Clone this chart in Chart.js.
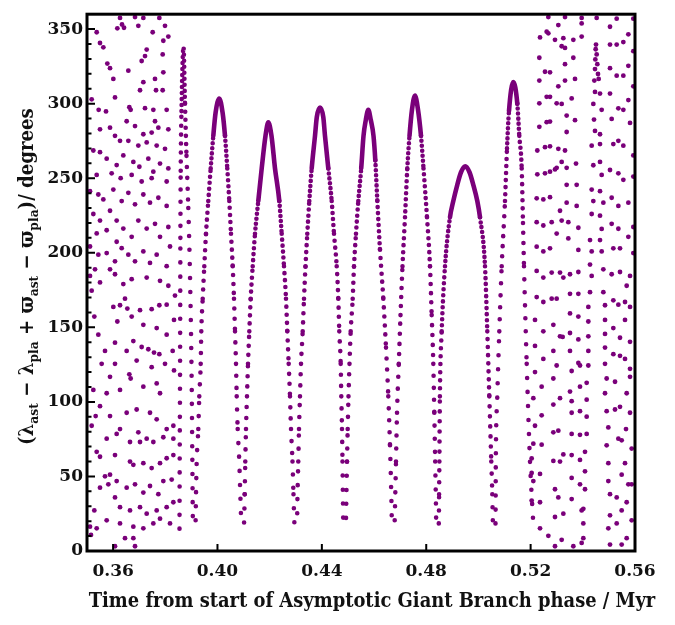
<!DOCTYPE html>
<html>
<head>
<meta charset="utf-8">
<script src="https://cdn.jsdelivr.net/npm/chart.js@4.4.1/dist/chart.umd.min.js"></script>
<style>
  html, body { margin: 0; padding: 0; background: #fff; }
  #wrap { width: 675px; height: 625px; }
</style>
</head>
<body>
<div id="wrap"><canvas id="chart" width="675" height="625"></canvas></div>
<script>
// axis ticks
const xTicks = [0.36, 0.40, 0.44, 0.48, 0.52, 0.56];
const yTicks = [0, 50, 100, 150, 200, 250, 300, 350];

// libration: time (Myr), angle (deg) read along the arches, in time order
const librationPath = [
  // narrow arch just before capture
  [0.38545,15],[0.38552,60],[0.38564,110],[0.38572,160],[0.38579,210],[0.38591,255],[0.38621,295],[0.38698,338],
  [0.38755,300],[0.38813,265],[0.38882,230],[0.38947,185],[0.39012,112],[0.39035,65],[0.39062,18],
  // arch 1
  [0.39158,18.5],[0.39177,38.1],[0.39204,60],[0.39265,81.8],[0.39303,103.7],[0.39357,125.5],[0.39380,147.3],[0.39434,169.2],
  [0.39495,191],[0.39560,212.8],[0.39648,234.7],[0.39740,256.6],[0.39840,278.4],[0.39928,294],[0.40070,303.5],[0.40196,294],
  [0.40288,278.4],[0.40376,256.6],[0.40453,234.7],[0.40518,212.8],[0.40583,191],[0.40633,169.2],[0.40672,147.3],[0.40710,125.5],
  [0.40737,103.7],[0.40775,81.8],[0.40836,60],[0.40875,38.1],[0.40921,18.5],
  // arch 2
  [0.41016,18.5],[0.41043,38.1],[0.41066,60],[0.41093,81.8],[0.41131,103.7],[0.41170,125.5],[0.41220,147.3],[0.41273,169.2],
  [0.41350,191],[0.41438,212.8],[0.41564,234.7],[0.41695,256.6],[0.41840,278.4],[0.41948,287.5],[0.42070,278.4],[0.42204,256.6],
  [0.42369,234.7],[0.42461,212.8],[0.42549,191],[0.42626,169.2],[0.42676,147.3],[0.42729,125.5],[0.42779,103.7],[0.42818,81.8],
  [0.42875,60],[0.42913,38.1],[0.42952,18.5],
  // arch 3
  [0.43047,18.5],[0.43067,38.1],[0.43097,60],[0.43124,81.8],[0.43162,103.7],[0.43201,125.5],[0.43266,147.3],[0.43316,169.2],
  [0.43373,191],[0.43442,212.8],[0.43519,234.7],[0.43611,256.6],[0.43737,278.4],[0.43806,291],[0.43929,297.4],[0.44055,291],
  [0.44120,278.4],[0.44247,256.6],[0.44377,234.7],[0.44465,212.8],[0.44569,191],[0.44630,169.2],[0.44668,147.3],[0.44722,125.5],
  [0.44745,103.7],[0.44772,81.8],[0.44791,60],[0.44806,38.1],[0.44822,18.5],
  // arch 4
  [0.44918,18.5],[0.44941,38.1],[0.44964,60],[0.44990,81.8],[0.45021,103.7],[0.45059,125.5],[0.45105,147.3],[0.45182,169.2],
  [0.45232,191],[0.45308,212.8],[0.45397,234.7],[0.45508,256.6],[0.45596,278.4],[0.45684,289],[0.45780,295.9],[0.45876,289],
  [0.45979,278.4],[0.46048,262],[0.46126,234.7],[0.46228,202],[0.46355,169.2],[0.46458,136.4],[0.46546,103.7],[0.46611,71],
  [0.46661,38.1],[0.46688,18.5],
  // arch 5
  [0.46784,18.5],[0.46814,38.1],[0.46841,60],[0.46880,92.7],[0.46948,125.5],[0.47014,158.2],[0.47090,191],[0.47186,223.8],
  [0.47274,256.6],[0.47359,278.4],[0.47454,296],[0.47569,305.5],[0.47684,296],[0.47799,278.4],[0.47895,256.6],[0.48029,223.8],
  [0.48144,191],[0.48209,158.2],[0.48271,125.5],[0.48309,92.7],[0.48343,60],[0.48366,38.1],[0.48386,18.5],
  // arch 6
  [0.48481,18.5],[0.48493,38.1],[0.48504,60],[0.48523,103.7],[0.48592,147.3],[0.48719,191],[0.48910,223.8],[0.49037,234.7],
  [0.49190,245.6],[0.49332,254],[0.49497,258],[0.49658,254],[0.49803,245.6],[0.49957,234.7],[0.50060,223.8],[0.50252,191],
  [0.50340,147.3],[0.50417,103.7],[0.50493,60],[0.50532,38.1],[0.50558,18.5],
  // arch 7
  [0.50654,18.5],[0.50666,60],[0.50723,103.7],[0.50800,147.3],[0.50892,191],[0.51018,234.7],[0.51095,270],[0.51171,295],
  [0.51336,314.5],[0.51490,300],[0.51566,278.4],[0.51658,256.6],[0.51708,220],[0.51746,191],[0.51850,125.5],[0.51976,60],
  [0.52038,38.1],[0.52103,18.5]
];

// circulation before capture: [time, angle]
const earlyDots = [
  [0.36265,357.5],[0.36840,358.1],[0.37159,357.5],[0.37772,357.5],[0.37989,352.2],
  [0.35371,347.9],[0.36163,350.5],[0.36341,353.1],[0.36418,350.9],[0.36967,352.2],[0.37517,347.9],
  [0.35498,340.7],[0.35626,337.8],[0.37287,336.3],[0.37925,342.2],[0.38117,345.0],
  [0.37223,331.9],[0.37095,328.6],[0.37900,333.0],[0.35779,326.9],[0.35882,323.8],[0.36009,316.6],
  [0.37606,316.6],[0.37925,321.0],[0.37645,309.0],[0.37900,309.0],[0.37031,309.0],[0.37159,314.4],[0.36584,322.1],
  [0.35179,302.9],[0.35447,295.9],[0.35728,294.8],[0.36073,304.2],[0.36622,297.6],[0.36673,295.9],[0.37223,297.0],[0.37542,295.9],[0.38053,295.9],
  [0.37606,288.2],[0.36520,288.2],[0.36840,285.0],[0.37159,279.5],[0.37478,280.6],[0.37734,283.9],[0.38117,282.8],[0.35498,282.8],[0.35882,283.9],
  [0.36073,278.4],[0.36265,275.1],[0.36584,275.1],[0.36967,271.9],[0.37287,274.0],[0.37670,271.9],[0.37989,269.7],
  [0.35243,268.6],[0.35498,267.5],[0.35754,263.1],[0.36137,258.8],[0.36392,265.3],[0.36776,260.9],[0.37006,257.7],[0.37350,263.1],[0.37542,254.4],[0.37798,259.8],[0.38117,256.6],
  [0.35371,252.2],[0.35945,253.3],[0.36290,250.0],[0.36712,252.2],[0.37095,247.8],[0.37478,250.0],[0.38053,247.8],
  [0.35115,241.3],[0.35434,239.1],[0.35626,235.8],[0.36009,242.4],[0.36329,234.7],[0.36584,240.2],[0.36840,232.5],[0.37159,239.1],[0.37414,233.6],[0.37734,236.9],[0.38053,231.4],
  [0.35882,228.2],[0.35243,226.0],[0.35498,221.6],[0.35754,215.1],[0.36137,221.6],[0.36392,216.2],[0.36712,210.7],[0.36967,221.6],[0.37287,216.2],[0.37606,219.4],[0.37798,210.7],[0.38117,217.3],[0.35371,213.0],[0.36137,207.4],
  [0.35115,204.2],[0.35434,198.7],[0.35754,199.8],[0.36073,194.3],[0.36329,203.1],[0.36584,198.7],[0.36840,194.3],[0.37159,200.9],[0.37414,193.2],[0.37670,198.7],[0.38053,191.0],[0.38181,204.2],
  [0.35307,188.9],[0.35882,188.9],[0.35115,184.5],[0.35498,180.1],[0.36073,185.6],[0.36392,179.0],[0.36712,182.3],[0.37287,183.4],[0.37798,181.2],[0.38117,177.9],
  [0.35179,174.6],[0.35281,157.2],[0.35434,145.1],[0.35243,108.0],[0.35498,97.1],[0.35332,90.5],[0.35179,84.0],[0.35371,66.5],[0.35498,63.2],[0.35690,50.1],[0.35818,44.7],[0.35281,27.2],[0.35371,15.2],[0.35115,16.3],[0.35153,10.8],
  [0.36073,139.7],[0.36163,153.9],[0.36009,163.7],[0.36265,164.8],[0.36456,169.2],[0.36546,162.6],[0.36712,157.2],[0.37031,161.5],[0.37478,162.2],[0.37772,164.8],[0.38053,165.2],[0.38372,171.3],[0.38334,155.0],
  [0.37095,136.8],[0.37350,135.3],[0.37568,133.1],[0.37772,132.0],[0.38283,134.2],[0.36622,118.5],[0.36673,115.7],[0.36073,125.5],[0.36265,108.0],[0.37159,110.2],[0.37670,112.4],[0.37798,105.8],[0.38334,121.1],
  [0.36903,94.9],[0.36520,92.7],[0.36265,81.8],[0.36137,78.5],[0.36967,79.6],[0.37031,73.1],[0.37287,75.3],[0.37542,73.1],[0.37925,76.3],[0.38053,81.8],[0.38309,84.0],[0.38309,75.3],
  [0.36073,64.3],[0.36648,60.0],[0.36776,57.8],[0.37159,58.9],[0.37478,55.6],[0.37798,58.9],[0.38053,62.2],[0.38309,64.3],
  [0.35882,51.2],[0.36137,46.9],[0.36520,42.5],[0.36840,44.7],[0.37159,39.2],[0.37414,43.6],[0.37734,38.1],[0.37925,46.9],[0.38245,47.9],
  [0.36073,35.9],[0.36265,29.4],[0.36648,27.2],[0.37031,29.4],[0.37287,25.0],[0.37670,27.2],[0.38053,29.4],[0.38309,32.7],
  [0.36265,18.5],[0.36776,16.3],[0.37159,15.2],[0.37542,18.5],[0.37798,21.7],[0.38181,18.5],
  [0.36456,8.6],[0.36776,8.6],[0.36840,3.2],[0.36073,3.2],
  [0.35690,134.2],[0.35882,116.8],[0.35562,125.5],[0.36776,140.8],[0.36903,127.7],[0.37478,123.3],[0.37989,125.5],[0.38053,145.1],
  [0.37670,149.5],[0.37159,151.7],[0.36520,134.2],[0.35754,105.8],[0.35882,90.5],[0.37414,92.7],[0.37670,88.3],[0.36648,73.1],
  [0.35754,75.3],[0.35498,42.5],[0.35754,20.6]
];

// circulation after release: [time, angle]
const lateDots = [
  [0.52679,358.1],[0.53318,358.1],[0.53956,357.5],[0.54531,357.5],[0.55298,357.0],[0.55936,357.0],
  [0.53062,352.7],[0.53956,353.8],
  [0.52615,348.3],[0.52679,347.2],[0.52360,344.4],[0.52934,342.8],[0.53254,343.9],[0.53637,342.8],[0.53956,345.0],[0.55042,351.6],[0.55745,346.5],
  [0.53190,338.5],[0.53318,337.4],[0.55042,339.6],[0.55298,339.6],[0.55553,341.3],
  [0.52334,330.8],[0.53637,330.8],[0.55936,335.2],
  [0.54506,339.6],[0.54493,336.5],[0.54531,333.0],[0.54480,329.7],[0.54556,326.5],[0.54467,323.2],[0.54582,319.9],
  [0.53318,326.5],[0.52551,321.4],[0.52743,321.0],[0.55042,323.8],[0.55745,325.4],[0.55298,318.8],[0.55553,318.8],
  [0.52334,315.5],[0.53062,311.6],[0.53318,315.5],[0.53701,316.6],[0.55936,311.6],
  [0.52615,304.6],[0.52743,304.6],[0.53573,303.5],[0.55042,306.8],[0.55745,302.4],[0.55362,296.9],[0.55553,295.9],[0.52334,300.2],[0.52998,300.2],[0.53190,299.8],
  [0.53381,292.0],[0.52334,284.5],[0.52615,287.6],[0.52743,288.0],[0.53701,288.9],[0.55106,289.8],[0.55809,287.1],
  [0.53381,281.0],[0.52257,268.6],[0.52551,270.8],[0.52743,271.4],[0.53062,269.7],[0.53318,268.6],[0.55170,272.9],[0.55362,275.1],[0.55553,271.8],[0.55936,265.3],
  [0.53190,260.9],[0.52998,257.0],[0.53381,257.0],[0.53739,259.8],[0.52257,252.6],[0.52551,253.3],[0.52743,254.4],[0.52934,255.9],[0.55042,255.5],[0.55362,253.3],[0.55553,248.9],[0.55936,251.1],
  [0.53381,245.6],[0.53765,245.6],[0.52232,236.5],[0.52487,235.8],[0.52743,237.3],[0.53126,228.2],[0.53381,233.6],[0.53765,231.4],[0.55106,236.9],[0.55362,231.4],[0.55745,233.6],
  [0.52232,220.5],[0.52487,218.3],[0.52807,220.5],[0.53190,221.6],[0.53445,220.5],[0.52998,212.9],[0.53829,216.8],[0.55106,219.4],[0.55362,216.1],[0.55745,210.7],[0.55936,217.3],
  [0.52232,204.1],[0.52487,200.9],[0.52743,203.0],[0.53445,209.6],[0.53829,201.9],[0.55170,203.0],[0.55425,203.0],[0.55936,199.8],
  [0.52232,187.8],[0.52487,183.4],[0.52807,186.7],[0.53126,186.7],[0.53254,183.4],[0.53509,185.6],[0.53829,187.1],[0.55106,185.6],[0.55425,187.1],[0.55809,184.5],[0.55681,177.9],
  [0.52232,170.3],[0.52487,167.0],[0.52807,169.2],[0.52998,169.2],[0.53509,172.5],[0.53829,172.5],[0.55170,168.1],[0.55617,167.0],
  [0.54442,315.5],[0.54467,307.9],[0.54403,299.8],[0.54429,289.3],[0.54467,281.7],[0.54340,271.8],[0.54403,258.7],[0.54340,242.4],
  [0.54403,234.7],[0.54340,226.0],[0.54276,208.5],[0.54340,200.9],[0.54276,192.1],[0.54340,184.5],[0.54276,173.6],
  [0.54608,316.6],[0.54659,306.8],[0.54723,295.9],[0.54659,279.5],[0.54659,272.9],[0.54659,260.9],[0.54723,252.2],[0.54659,241.3],
  [0.54787,233.6],[0.54659,224.9],[0.54723,216.0],[0.54659,208.5],[0.54723,200.9],[0.54787,188.9],[0.54787,173.6],
  [0.55362,165.2],[0.53509,159.3],[0.53829,157.2],[0.55809,163.7],
  [0.52168,155.0],[0.52487,147.3],[0.52871,151.7],[0.53126,144.0],[0.53228,143.6],[0.53509,146.2],[0.53829,141.9],[0.55170,149.5],[0.55425,143.0],[0.55617,155.0],[0.55809,140.3],
  [0.52168,137.5],[0.52487,128.8],[0.52871,134.2],[0.53509,134.2],[0.53829,126.1],[0.55170,132.0],[0.55425,130.9],[0.55809,122.2],
  [0.52168,120.0],[0.52423,110.2],[0.52871,115.7],[0.52998,124.4],[0.53573,120.7],[0.53892,124.4],[0.55234,113.5],[0.55617,128.8],[0.55809,116.8],
  [0.52104,102.5],[0.52423,91.0],[0.53126,102.5],[0.53509,106.9],[0.53573,100.5],[0.53892,110.2],[0.55234,94.9],[0.55425,96.7],[0.55681,105.8],[0.55809,92.7],
  [0.52168,84.0],[0.52871,98.2],[0.53573,92.7],[0.53892,93.8],[0.55362,75.3],[0.55489,74.2],[0.55655,81.8],[0.55873,68.7],
  [0.52104,72.0],[0.52423,71.3],[0.52871,79.6],[0.53062,80.7],[0.53573,78.5],[0.53892,77.9],[0.55489,51.2],[0.55617,58.9],
  [0.52040,62.1],[0.52871,60.4],[0.53126,60.0],[0.53254,64.8],[0.53573,64.3],[0.53892,61.1],[0.55745,44.7],
  [0.52040,52.3],[0.52360,51.7],[0.52104,46.9],[0.52934,41.4],[0.53573,49.0],[0.53892,44.7],[0.55298,35.9],[0.55681,32.7],
  [0.52040,33.8],[0.52360,32.7],[0.53062,35.9],[0.52934,22.8],[0.53254,25.0],[0.53573,34.8],[0.53956,27.2],[0.55489,27.2],[0.55873,44.7],
  [0.52360,15.2],[0.52679,10.2],[0.52934,3.2],[0.53190,7.5],[0.53637,3.2],[0.53956,5.4],[0.55298,18.5],[0.55489,4.3],[0.55681,8.6],[0.55873,20.6],
  [0.54212,163.7],[0.54212,153.9],[0.54212,144.0],[0.54212,134.2],[0.54212,124.4],[0.54148,112.8],[0.54148,101.5],[0.54148,90.1],
  [0.54148,78.5],[0.54084,66.5],[0.54084,53.4],[0.54084,41.4],[0.54020,28.3],[0.54020,18.5],[0.54020,8.6],
  [0.54851,164.8],[0.54851,155.0],[0.54851,145.6],[0.54851,136.4],[0.54851,125.5],[0.54914,115.7],[0.54851,105.8],[0.54914,93.8],
  [0.54978,82.9],[0.54914,70.9],[0.54978,58.9],[0.54978,46.9],[0.55042,38.1],[0.55042,23.9],[0.54978,15.2],[0.55042,4.3]
];

const X_TITLE = 'Time from start of Asymptotic Giant Branch phase / Myr';
const Y_TITLE_PARTS = [['(λ', false], ['ast', true], [' − λ', false], ['pla', true], [' + ϖ', false], ['ast', true],
                       [' − ϖ', false], ['pla', true], [')/ degrees', false]];

const PURPLE = '#7a007a';
const INK = '#111';
const TICK_FONT = { family: '"DejaVu Serif", serif', size: 17, weight: 'bold' };
const TITLE_FAMILY = '"DejaVu Serif Condensed", "DejaVu Serif", serif';

// style of the arch dots: near the crest the dots merge into a solid stroke,
// lower down they spread out
const crestDepth = [6, 32, 50, 32, 35, 36, 50, 18];
const gapSlope = [0.08, 0.045, 0.045, 0.045, 0.045, 0.045, 0.045, 0.06];

const archOf = [];
let archIndex = 0;
librationPath.forEach((p, i) => {
    if (i > 0 && p[1] <= 20 && librationPath[i - 1][1] <= 20) archIndex++;
    archOf.push(archIndex);
});
const archTop = [];
librationPath.forEach((p, i) => {
    archTop[archOf[i]] = Math.max(archTop[archOf[i]] || 0, p[1]);
});

function segmentDash(ctx) {
    const a = archOf[ctx.p0DataIndex];
    const depth = archTop[a] - (ctx.p0.parsed.y + ctx.p1.parsed.y) / 2;
    if (depth < crestDepth[a]) return [];
    const gap = Math.min(13.5, 4.5 + (depth - crestDepth[a]) * gapSlope[a]);
    return [0, Math.round(gap)];
}

const toPoints = arr => arr.map(([x, y]) => ({ x, y }));

const frameAndTicks = {
    id: 'frameAndTicks',
    afterDatasetsDraw(chart) {
        const { ctx, chartArea: a, scales: { x, y } } = chart;
        ctx.save();
        ctx.strokeStyle = '#000';
        ctx.lineWidth = 2;
        ctx.beginPath();
        for (let v = 10; v < 360; v += 10) {
            const py = y.getPixelForValue(v);
            const len = yTicks.includes(v) ? 8 : 4.5;
            ctx.moveTo(a.left, py);
            ctx.lineTo(a.left + len, py);
        }
        xTicks.forEach(v => {
            const px = x.getPixelForValue(v);
            ctx.moveTo(px, a.bottom);
            ctx.lineTo(px, a.bottom - 7);
        });
        ctx.stroke();
        ctx.lineWidth = 3;
        ctx.strokeRect(a.left, a.top, a.right - a.left, a.bottom - a.top);
        ctx.restore();
    }
};

const axisTitles = {
    id: 'axisTitles',
    afterDraw(chart) {
        const ctx = chart.ctx;
        ctx.save();
        ctx.fillStyle = INK;
        ctx.textAlign = 'left';
        ctx.textBaseline = 'alphabetic';

        // x title, fitted to the width it has in the figure
        let size = 20;
        ctx.font = `bold ${size}px ${TITLE_FAMILY}`;
        size = size * 567 / ctx.measureText(X_TITLE).width;
        ctx.font = `bold ${size}px ${TITLE_FAMILY}`;
        ctx.textAlign = 'center';
        ctx.fillText(X_TITLE, 372, 607);

        // y title with subscripts, rotated
        ctx.textAlign = 'left';
        const runWidth = s => Y_TITLE_PARTS.reduce((w, [t, sub]) => {
            ctx.font = `bold ${sub ? s * 0.68 : s}px ${TITLE_FAMILY}`;
            return w + ctx.measureText(t).width;
        }, 0);
        let ys = 20;
        ys = ys * 337 / runWidth(ys);
        ctx.translate(32.5, 276.5);
        ctx.rotate(-Math.PI / 2);
        let cur = -337 / 2;
        Y_TITLE_PARTS.forEach(([t, sub]) => {
            ctx.font = `bold ${sub ? ys * 0.68 : ys}px ${TITLE_FAMILY}`;
            ctx.fillText(t, cur, sub ? ys * 0.26 : 0);
            cur += ctx.measureText(t).width;
        });
        ctx.restore();
    }
};

new Chart(document.getElementById('chart'), {
    type: 'scatter',
    data: {
        datasets: [
            {
                type: 'line',
                data: toPoints(librationPath),
                borderColor: PURPLE,
                borderWidth: 4.6,
                borderCapStyle: 'round',
                borderJoinStyle: 'round',
                pointRadius: 0,
                cubicInterpolationMode: 'monotone',
                fill: false,
                segment: { borderDash: segmentDash }
            },
            {
                data: toPoints(earlyDots),
                pointRadius: 2.4,
                pointBackgroundColor: PURPLE,
                pointBorderWidth: 0
            },
            {
                data: toPoints(lateDots),
                pointRadius: 2.4,
                pointBackgroundColor: PURPLE,
                pointBorderWidth: 0
            }
        ]
    },
    options: {
        responsive: false,
        animation: false,
        devicePixelRatio: 1,
        layout: { padding: { top: 3, right: 40, left: 0, bottom: 0 } },
        plugins: { legend: { display: false }, tooltip: { enabled: false } },
        scales: {
            x: {
                type: 'linear',
                min: 0.35,
                max: 0.56,
                afterBuildTicks: s => { s.ticks = xTicks.map(value => ({ value })); },
                afterFit: s => { s.height = 74; },
                grid: { display: false, drawTicks: false },
                border: { display: false },
                ticks: {
                    font: TICK_FONT,
                    color: INK,
                    padding: 10,
                    maxRotation: 0,
                    autoSkip: false,
                    callback: v => v.toFixed(2)
                }
            },
            y: {
                type: 'linear',
                min: 0,
                max: 360,
                afterBuildTicks: s => { s.ticks = yTicks.map(value => ({ value })); },
                afterFit: s => { s.width = 87; },
                grid: { display: false, drawTicks: false },
                border: { display: false },
                ticks: {
                    font: TICK_FONT,
                    color: INK,
                    padding: 4,
                    callback: v => String(v)
                }
            }
        }
    },
    plugins: [frameAndTicks, axisTitles]
});
</script>
</body>
</html>
